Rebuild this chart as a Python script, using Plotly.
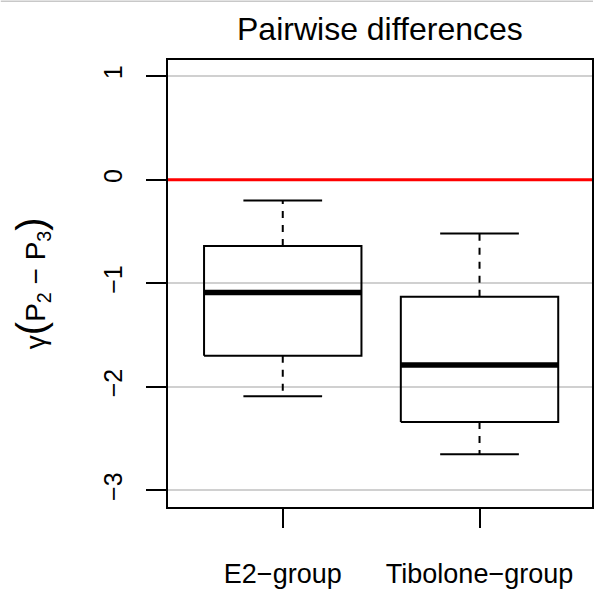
import plotly.graph_objects as go

# ---- data ----
groups = ["E2\u2212group", "Tibolone\u2212group"]
positions = [1, 2]
lower_whisker = [-2.09, -2.65]
q1 = [-1.70, -2.34]
median = [-1.09, -1.79]
q3 = [-0.64, -1.13]
upper_whisker = [-0.20, -0.52]
y_ticks = [-3, -2, -1, 0, 1]
reference_level = 0

BOX_HALF = 0.4
CAP_HALF = 0.2

fig = go.Figure()
for c, lo, a, m, b, hi in zip(positions, lower_whisker, q1, median, q3, upper_whisker):
    line = dict(color="black", width=2)
    # whiskers (dashed)
    fig.add_trace(go.Scatter(x=[c, c], y=[b, hi], mode="lines",
                             line=dict(color="black", width=2, dash="7px,7px"),
                             hoverinfo="skip", showlegend=False))
    fig.add_trace(go.Scatter(x=[c, c], y=[a, lo], mode="lines",
                             line=dict(color="black", width=2, dash="7px,7px"),
                             hoverinfo="skip", showlegend=False))
    # caps
    fig.add_trace(go.Scatter(x=[c - CAP_HALF, c + CAP_HALF], y=[hi, hi], mode="lines",
                             line=line, hoverinfo="skip", showlegend=False))
    fig.add_trace(go.Scatter(x=[c - CAP_HALF, c + CAP_HALF], y=[lo, lo], mode="lines",
                             line=line, hoverinfo="skip", showlegend=False))
    # box
    fig.add_trace(go.Scatter(x=[c - BOX_HALF, c + BOX_HALF, c + BOX_HALF, c - BOX_HALF, c - BOX_HALF],
                             y=[a, a, b, b, a], mode="lines",
                             line=line, hoverinfo="skip", showlegend=False))
    # median
    fig.add_trace(go.Scatter(x=[c - BOX_HALF, c + BOX_HALF], y=[m, m], mode="lines",
                             line=dict(color="black", width=5.5), hoverinfo="skip", showlegend=False))

# red reference line across the plot
fig.add_shape(type="line", xref="x domain", yref="y", x0=0, x1=1,
              y0=reference_level, y1=reference_level,
              line=dict(color="#ff0000", width=3), layer="above")

# thin grey line at the very top of the image
fig.add_shape(type="line", xref="paper", yref="paper",
              x0=-168 / 426, x1=1 + 1 / 426, y0=(509 - 0.5) / 449.5, y1=(509 - 0.5) / 449.5,
              line=dict(color="#c8c8c8", width=1.5))

FONT = "Liberation Sans"

fig.update_layout(
    width=595, height=590,
    margin=dict(l=168, r=1, t=59.5, b=81, pad=0),
    paper_bgcolor="white", plot_bgcolor="white",
    font=dict(family=FONT, color="black"),
    showlegend=False,
    xaxis=dict(range=[0.4168, 2.5716], tickmode="array", tickvals=positions, ticktext=groups,
               showgrid=False, zeroline=False, showline=True, mirror=True,
               linecolor="black", linewidth=2, ticks="outside", ticklen=19, tickwidth=2,
               tickcolor="black", tickfont=dict(family=FONT, size=27),
               ticklabelstandoff=23),
    yaxis=dict(range=[-3.160, 1.1556], tickmode="array", tickvals=y_ticks,
               ticktext=[str(v).replace("-", "\u2212") for v in y_ticks],
               showgrid=True, gridcolor="#d0d0d0", gridwidth=2, zeroline=False,
               showline=True, mirror=True, linecolor="black", linewidth=2,
               ticks="outside", ticklen=20, tickwidth=2, tickcolor="black",
               tickangle=-90, tickfont=dict(family=FONT, size=25),
               ticklabelstandoff=14),
)

fig.add_annotation(text="Pairwise differences", xref="paper", yref="paper",
                   x=0.5, y=(509 - 28.7) / 449.5, xanchor="center", yanchor="middle",
                   showarrow=False, font=dict(family=FONT, size=32, color="black"))

fig.add_annotation(text="\u03b3<span style='font-size:40px'>(</span>P<sub>2</sub> \u2212 P<sub>3</sub><span style='font-size:40px'>)</span>",
                   xref="paper", yref="paper", x=(31 - 168) / 426, y=0.5,
                   xanchor="center", yanchor="middle", textangle=-90, showarrow=False,
                   font=dict(family=FONT, size=28, color="black"))

fig.write_html("out.html")
